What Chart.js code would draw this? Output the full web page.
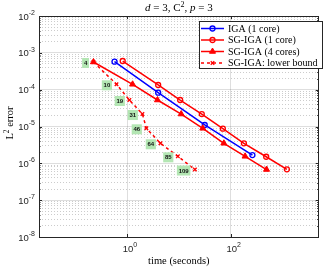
<!DOCTYPE html>
<html>
<head>
<meta charset="utf-8">
<script src="https://cdn.jsdelivr.net/npm/chart.js@4/dist/chart.umd.min.js"></script>
<style>
  html, body { margin: 0; padding: 0; background: #fff; }
  #wrap { width: 324px; height: 269px; }
</style>
</head>
<body>
<div id="wrap"><canvas id="errChart" width="324" height="269"></canvas></div>
<script>
// tider (sekunder) og L2-fejl
const igaTime = [0.574, 3.99, 31.6, 263];
const igaErr = [5.74e-4, 8.26e-5, 1.10e-5, 1.68e-6];

const sg1Time = [0.825, 3.99, 10.6, 27.7, 70.7, 180, 485, 1216];
const sg1Err = [6.00e-4, 1.34e-4, 5.24e-5, 2.18e-5, 8.71e-6, 3.50e-6, 1.51e-6, 6.89e-7];

const sg4Time = [0.225, 1.28, 3.87, 11.1, 29.0, 73.9, 190, 492];
const sg4Err = [5.64e-4, 1.40e-4, 5.24e-5, 2.18e-5, 8.93e-6, 3.50e-6, 1.55e-6, 6.79e-7];

const lbTime = [0.225, 0.626, 1.11, 1.98, 2.36, 4.41, 9.57, 20.4];
const lbErr = [5.64e-4, 1.40e-4, 5.24e-5, 2.18e-5, 8.93e-6, 3.50e-6, 1.55e-6, 6.79e-7];
const lbCounts = ['4', '10', '19', '31', '46', '64', '85', '109'];

const seriesNames = ['IGA (1 core)', 'SG-IGA (1 core)', 'SG-IGA (4 cores)', 'SG-IGA: lower bound'];

// akse-ticks (eksponenter)
const xMajorExp = [0, 2];
const yMajorExp = [-8, -7, -6, -5, -4, -3, -2];
const yMinorMant = [2, 3, 4, 5, 6, 7, 8, 9];

const serif = '"Liberation Serif", "Times New Roman", serif';
const sans = '"Liberation Sans", Arial, sans-serif';
const axisColor = '#262626';

const pts = (xs, ys) => xs.map((x, i) => ({ x: x, y: ys[i] }));
const isDecade = v => { const l = Math.log10(v); return Math.abs(l - Math.round(l)) < 1e-9; };

// tegner tekst med hævet skrift, parts = [{t, font, dy}]
function drawParts(ctx, parts, x, y, align) {
  let total = 0;
  parts.forEach(p => { ctx.font = p.font; p.w = ctx.measureText(p.t).width; total += p.w; });
  let cx = align === 'center' ? x - total / 2 : align === 'right' ? x - total : x;
  ctx.textAlign = 'left';
  parts.forEach(p => {
    ctx.font = p.font;
    ctx.fillText(p.t, cx, y + (p.dy || 0));
    cx += p.w;
  });
}

const framePlugin = {
  id: 'frame',
  afterDraw(chart) {
    const { ctx, chartArea: a, scales } = chart;
    ctx.save();
    ctx.strokeStyle = axisColor;
    ctx.lineWidth = 1;
    ctx.strokeRect(Math.round(a.left) + 0.5, Math.round(a.top) + 0.5, Math.round(a.right - a.left) - 1, Math.round(a.bottom - a.top));

    // små ticks indad
    ctx.beginPath();
    yMajorExp.forEach(e => {
      const y = Math.round(scales.y.getPixelForValue(Math.pow(10, e))) + 0.5;
      ctx.moveTo(a.left, y); ctx.lineTo(a.left + 3, y);
      ctx.moveTo(a.right, y); ctx.lineTo(a.right - 3, y);
      if (e < -2) {
        yMinorMant.forEach(m => {
          const ym = Math.round(scales.y.getPixelForValue(m * Math.pow(10, e))) + 0.5;
          ctx.moveTo(a.left, ym); ctx.lineTo(a.left + 1.5, ym);
          ctx.moveTo(a.right, ym); ctx.lineTo(a.right - 1.5, ym);
        });
      }
    });
    xMajorExp.forEach(e => {
      const x = Math.round(scales.x.getPixelForValue(Math.pow(10, e))) + 0.5;
      ctx.moveTo(x, a.bottom); ctx.lineTo(x, a.bottom - 3);
      ctx.moveTo(x, a.top); ctx.lineTo(x, a.top + 3);
    });
    ctx.stroke();

    // tick-labels
    ctx.fillStyle = axisColor;
    ctx.textBaseline = 'middle';
    yMajorExp.forEach(e => {
      const y = scales.y.getPixelForValue(Math.pow(10, e));
      drawParts(ctx, [
        { t: '10', font: '9.5px ' + sans, dy: 1 },
        { t: String(e), font: '7px ' + sans, dy: -3 }
      ], a.left - 4, y, 'right');
    });
    xMajorExp.forEach(e => {
      const x = scales.x.getPixelForValue(Math.pow(10, e));
      drawParts(ctx, [
        { t: '10', font: '9.5px ' + sans, dy: 0 },
        { t: String(e), font: '7px ' + sans, dy: -4 }
      ], x + 3, 249, 'center');
    });

    // titel
    ctx.fillStyle = '#000';
    ctx.textBaseline = 'alphabetic';
    drawParts(ctx, [
      { t: 'd', font: 'italic 11px ' + serif },
      { t: ' = 3, C', font: '11px ' + serif },
      { t: '2', font: '8px ' + serif, dy: -4 },
      { t: ', ', font: '11px ' + serif },
      { t: 'p', font: 'italic 11px ' + serif },
      { t: ' = 3', font: '11px ' + serif }
    ], (a.left + a.right) / 2, 10.5, 'center');

    // aksetitler
    drawParts(ctx, [{ t: 'time (seconds)', font: '10.5px ' + serif }], (a.left + a.right) / 2, 264, 'center');
    ctx.save();
    ctx.translate(13, 123);
    ctx.rotate(-Math.PI / 2);
    drawParts(ctx, [
      { t: 'L', font: '10.5px ' + serif },
      { t: '2', font: '7.5px ' + serif, dy: -4 },
      { t: ' error', font: '10.5px ' + serif }
    ], 0, 0, 'center');
    ctx.restore();

    // legende inde i plottet
    const lx = 199.5, ly = 21.5, lw = 123, lh = 47;
    ctx.fillStyle = '#fff';
    ctx.fillRect(lx, ly, lw, lh);
    ctx.strokeStyle = axisColor;
    ctx.strokeRect(lx, ly, lw, lh);
    chart.data.datasets.forEach((ds, i) => {
      const y = 28.5 + i * 11.5;
      ctx.save();
      ctx.strokeStyle = ds.borderColor;
      ctx.lineWidth = ds.borderWidth;
      ctx.setLineDash(ds.borderDash || []);
      ctx.beginPath(); ctx.moveTo(201, y); ctx.lineTo(224, y); ctx.stroke();
      ctx.setLineDash([]);
      ctx.fillStyle = ds.pointBackgroundColor;
      ctx.strokeStyle = ds.borderColor;
      ctx.lineWidth = ds.pointBorderWidth;
      Chart.helpers.drawPoint(ctx, { pointStyle: ds.pointStyle, radius: ds.pointRadius, rotation: 0, borderWidth: ds.pointBorderWidth }, 212.5, y);
      ctx.restore();
      ctx.fillStyle = '#000';
      ctx.textBaseline = 'middle';
      drawParts(ctx, [{ t: ds.label, font: '10px ' + serif }], 228, y + 0.5, 'left');
    });
    ctx.restore();
  }
};

// grønne bokse med antal delproblemer ved nedre grænse
const countPlugin = {
  id: 'counts',
  afterDatasetsDraw(chart) {
    const ctx = chart.ctx;
    const meta = chart.getDatasetMeta(3);
    ctx.save();
    ctx.font = 'bold 6px ' + sans;
    ctx.textAlign = 'center';
    ctx.textBaseline = 'middle';
    meta.data.forEach((pt, i) => {
      const txt = lbCounts[i];
      const w = ctx.measureText(txt).width + 3.5;
      const h = 10;
      const right = pt.x - 4.5;
      const cy = pt.y + 1;
      ctx.fillStyle = '#b3e6b3';
      ctx.fillRect(right - w, cy - h / 2, w, h);
      ctx.fillStyle = '#111';
      ctx.fillText(txt, right - w / 2, cy + 0.5);
    });
    ctx.restore();
  }
};

new Chart(document.getElementById('errChart'), {
  type: 'line',
  data: {
    datasets: [
      { label: seriesNames[0], data: pts(igaTime, igaErr), borderColor: '#0000ff', pointBackgroundColor: 'rgba(0,0,0,0)',
        pointStyle: 'circle', pointRadius: 2.5, pointBorderWidth: 1.3, borderWidth: 1.5, order: 3 },
      { label: seriesNames[1], data: pts(sg1Time, sg1Err), borderColor: '#ff0000', pointBackgroundColor: 'rgba(0,0,0,0)',
        pointStyle: 'circle', pointRadius: 2.5, pointBorderWidth: 1.3, borderWidth: 1.5, order: 2 },
      { label: seriesNames[2], data: pts(sg4Time, sg4Err), borderColor: '#ff0000', pointBackgroundColor: '#ff0000',
        pointStyle: 'triangle', pointRadius: 3.5, pointBorderWidth: 1, borderWidth: 1.5, order: 1 },
      { label: seriesNames[3], data: pts(lbTime, lbErr), borderColor: '#ff0000', pointBackgroundColor: '#ff0000',
        pointStyle: 'crossRot', pointRadius: 2.5, pointBorderWidth: 1.3, borderWidth: 1.5, borderDash: [3, 3], order: 0 }
    ]
  },
  options: {
    responsive: false,
    animation: false,
    devicePixelRatio: 1,
    layout: { padding: { left: 39, right: 1, top: 16, bottom: 32 } },
    plugins: { legend: { display: false }, tooltip: { enabled: false } },
    elements: { line: { tension: 0, fill: false } },
    scales: {
      x: {
        type: 'logarithmic', min: 0.02, max: 5000,
        afterBuildTicks: ax => { ax.ticks = xMajorExp.map(e => ({ value: Math.pow(10, e) })); },
        ticks: { display: false, autoSkip: false },
        grid: { color: 'rgba(0,0,0,0.13)', lineWidth: 1, drawTicks: false },
        border: { display: false }
      },
      y: {
        type: 'logarithmic', min: 1e-8, max: 1e-2,
        afterBuildTicks: ax => {
          const t = [];
          yMajorExp.forEach(e => {
            t.push({ value: Math.pow(10, e) });
            if (e < -2) yMinorMant.forEach(m => t.push({ value: m * Math.pow(10, e) }));
          });
          ax.ticks = t;
        },
        ticks: { display: false, autoSkip: false },
        grid: {
          color: c => (c.tick && isDecade(c.tick.value)) ? 'rgba(0,0,0,0.13)' : 'rgba(0,0,0,0.2)',
          lineWidth: 1, drawTicks: false
        },
        border: { display: false, dash: c => (c.tick && !isDecade(c.tick.value)) ? [1, 2] : [] }
      }
    }
  },
  plugins: [countPlugin, framePlugin]
});
</script>
</body>
</html>
